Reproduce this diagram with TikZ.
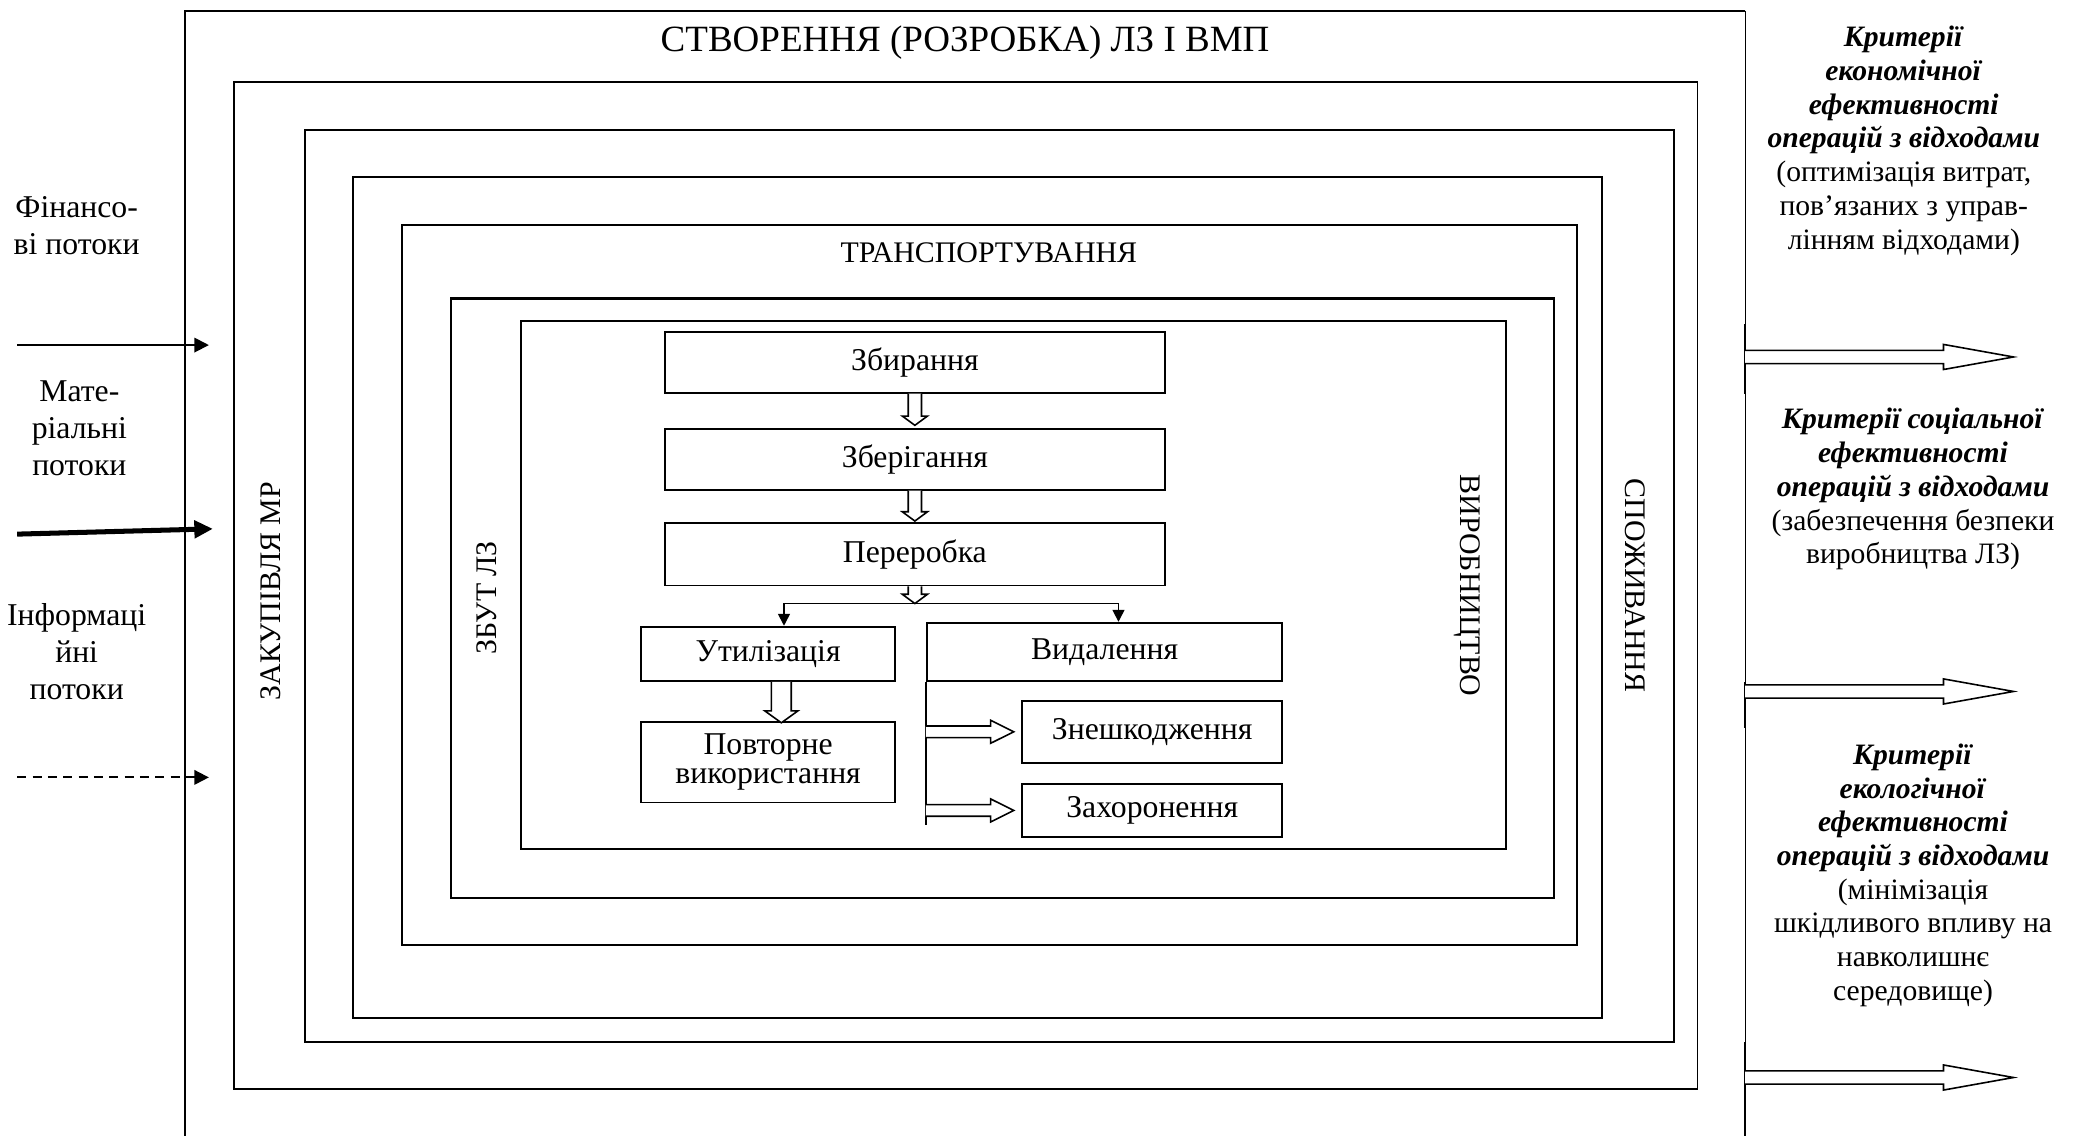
\documentclass[tikz,border=0pt]{standalone}
\usepackage{fontspec}
\setmainfont{Liberation Serif}
\usetikzlibrary{arrows.meta,positioning,calc}

\begin{document}
\begin{tikzpicture}[
    x=0.5pt, y=-0.5pt,
    node distance=13pt,
    frame/.style={draw, line width=0.7pt},
    stage/.style={rectangle, draw, line width=0.7pt, inner sep=1pt, align=center,
                  font=\fontsize{12}{13.5}\selectfont},
    lbl/.style={inner sep=0pt, align=center, font=\fontsize{11.3}{13}\selectfont},
    side/.style={inner sep=0pt, align=center, font=\fontsize{12}{14}\selectfont},
    crit/.style={inner sep=0pt, align=center, font=\fontsize{11.2}{12.75}\selectfont},
    hollow/.style={draw, fill=white, line width=0.6pt, line join=miter},
    flow/.style={-{Triangle[length=4.5pt, width=4.5pt]}, line width=0.6pt},
    inflow/.style={-{Triangle[length=5.5pt, width=5.5pt]}, line width=0.7pt},
  ]
  \useasboundingbox (0,0) rectangle (1568,859);

  % nested frames
  \draw[frame] (140,859) -- (140,8) -- (1320,8);
  \draw[line width=0.4pt] (1320,8) -- (1320,859);
  \foreach \ya/\yb in {245/298, 516/551, 788/859}
    \draw[frame] (1320,\ya) -- (1320,\yb);
  \draw[frame] (177,62) rectangle (1284,824);
  \draw[frame] (231,98) rectangle (1266,788);
  \draw[frame] (267,134) rectangle (1212,770);
  \draw[frame] (304,170) rectangle (1193,715);
  \draw[frame, line width=0.8pt] (340.8,225.8) rectangle (1175.3,679.3);
  \draw[frame] (394,243) rectangle (1139,642);

  \node[lbl, font=\fontsize{14}{16}\selectfont] (create) at (730,32) {СТВОРЕННЯ (РОЗРОБКА) ЛЗ І ВМП};
  \node[lbl] (transp) at (748,191) {ТРАНСПОРТУВАННЯ};
  \node[lbl, rotate=90] (zakup) at (205,447) {ЗАКУПІВЛЯ МР};
  \node[lbl, rotate=90] (zbut) at (368,452) {ЗБУТ ЛЗ};
  \node[lbl, rotate=-90] (vyrob) at (1110,443) {ВИРОБНИЦТВО};
  \node[lbl, rotate=-90] (spozh) at (1237,443) {СПОЖИВАННЯ};

  % waste handling chain
  \node[stage, minimum width=189pt, minimum height=23pt] (zbyr) at (692,274) {Збирання};
  \node[stage, minimum width=189pt, minimum height=23pt, below=13pt of zbyr] (zber) {Зберігання};
  \node[stage, minimum width=189pt, minimum height=23.5pt, below=12pt of zber] (perer) {Переробка};
  \node[stage, minimum width=96pt, minimum height=20.5pt] (util) at (581,494.5) {Утилізація};
  \node[stage, minimum width=96pt, minimum height=30.5pt,
        font=\fontsize{12}{11}\selectfont] (povt) at (581,576.5) {Повторне\\використання};
  \node[stage, minimum width=134.5pt, minimum height=22pt] (vyd) at (835.5,493) {Видалення};
  \node[stage, minimum width=98.5pt, minimum height=23.5pt] (znes) at (871.5,553.5) {Знешкодження};
  \node[stage, minimum width=98.5pt, minimum height=20pt] (zakh) at (871.5,613) {Захоронення};

  \draw[hollow] ($(zbyr.south)+(-5,0)$) -- ++(0,17) -- ++(-4.5,0) -- ++(9.5,7) -- ++(9.5,-7) -- ++(-4.5,0) -- ++(0,-17);
  \draw[hollow] ($(zber.south)+(-5,0)$) -- ++(0,16) -- ++(-4.5,0) -- ++(9.5,7) -- ++(9.5,-7) -- ++(-4.5,0) -- ++(0,-16);

  \coordinate (split) at ($(perer.south)+(0,13)$);
  \draw[flow] (split) -| ($(util.north)+(12,0)$);
  \draw[flow] (split) -| ($(vyd.north)+(10.5,0)$);
  \draw[hollow] ($(perer.south)+(-5,0)$) -- ++(0,6) -- ++(-4.5,0) -- ++(9.5,7) -- ++(9.5,-7) -- ++(-4.5,0) -- ++(0,-6);

  \draw[hollow] ($(util.south)+(2.5,0)$) -- ++(0,22) -- ++(-5,0) -- ++(12.5,9) -- ++(12.5,-9) -- ++(-5,0) -- ++(0,-22);

  \coordinate (vbot) at ($(vyd.south west)+(0,108)$);
  \draw[line width=0.7pt] (vyd.south west) -- (vbot);
  \coordinate (d1) at (vyd.south west |- znes.west);
  \coordinate (d2) at (vyd.south west |- zakh.west);
  \draw[hollow] ($(d1)+(0,-4.4)$) -- ++(49,0) -- ++(0,-4.3) -- ++(17.5,8.7) -- ++(-17.5,8.7) -- ++(0,-4.3) -- ++(-49,0);
  \draw[hollow] ($(d2)+(0,-4.4)$) -- ++(49,0) -- ++(0,-4.3) -- ++(17.5,8.7) -- ++(-17.5,8.7) -- ++(0,-4.3) -- ++(-49,0);

  % incoming flows
  \node[side] (fin) at (58,171) {Фінансо-\\ві потоки};
  \node[side] (mat) at (60,324) {Мате-\\ріальні\\потоки};
  \node[side] (inf) at (58,493) {Інформаці\\йні\\потоки};
  \coordinate (fin0) at (13,261);  \coordinate (fin1) at (158,261);
  \coordinate (mat0) at (13,404);  \coordinate (mat1) at (161,400);
  \coordinate (inf0) at (13,588);  \coordinate (inf1) at (158,588);
  \draw[inflow] (fin0) -- (fin1);
  \draw[-{Triangle[length=7pt, width=6.5pt]}, line width=1.9pt] (mat0) -- (mat1);
  \draw[inflow, dash pattern=on 3.5pt off 2.3pt] (inf0) -- (inf1);

  % efficiency criteria
  \node[crit] (econ) at (1440,106.5) {\textbf{\textit{Критерії}}\\\textbf{\textit{економічної}}\\
        \textbf{\textit{ефективності}}\\\textbf{\textit{операцій з відходами}}\\
        (оптимізація витрат,\\пов’язаних з управ-\\лінням відходами)};
  \node[crit] (soc) at (1447,370) {\textbf{\textit{Критерії соціальної}}\\\textbf{\textit{ефективності}}\\
        \textbf{\textit{операцій з відходами}}\\(забезпечення безпеки\\виробництва ЛЗ)};
  \node[crit] (ecol) at (1447,662) {\textbf{\textit{Критерії}}\\\textbf{\textit{екологічної}}\\
        \textbf{\textit{ефективності}}\\\textbf{\textit{операцій з відходами}}\\
        (мінімізація\\шкідливого впливу на\\навколишнє\\середовище)};
  \coordinate (out1) at (1320,270);
  \coordinate (out2) at (1320,523);
  \coordinate (out3) at (1320,815);
  \draw[hollow] ($(out1)+(0,-5)$) -- ++(150,0) -- ++(0,-4.5) -- ++(53,9.5) -- ++(-53,9.5) -- ++(0,-4.5) -- ++(-150,0);
  \draw[hollow] ($(out2)+(0,-5)$) -- ++(150,0) -- ++(0,-4.5) -- ++(53,9.5) -- ++(-53,9.5) -- ++(0,-4.5) -- ++(-150,0);
  \draw[hollow] ($(out3)+(0,-5)$) -- ++(150,0) -- ++(0,-4.5) -- ++(53,9.5) -- ++(-53,9.5) -- ++(0,-4.5) -- ++(-150,0);
\end{tikzpicture}
\end{document}
